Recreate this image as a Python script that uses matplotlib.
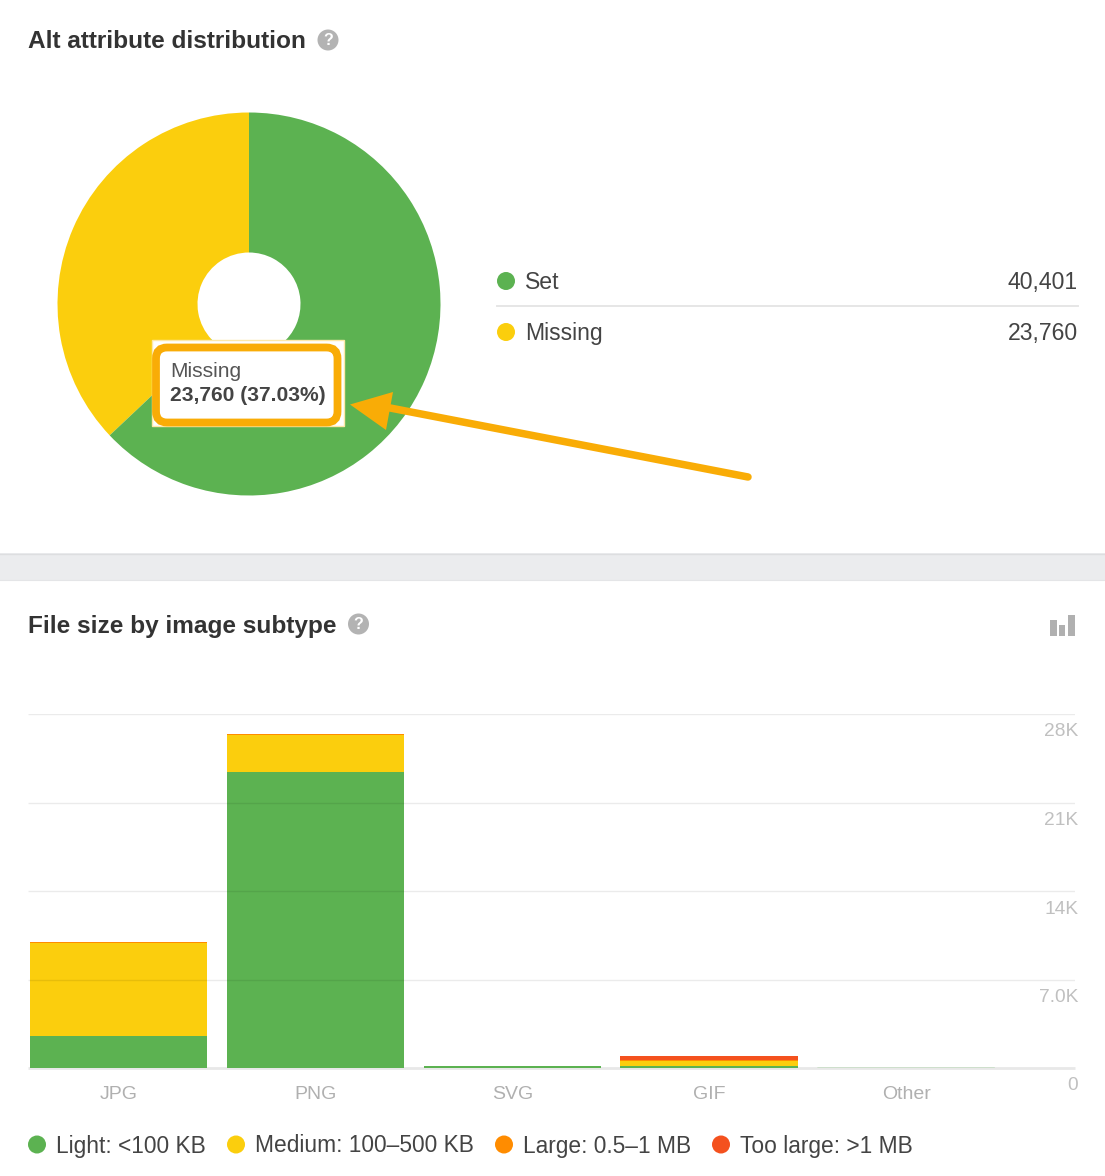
import matplotlib
matplotlib.use("Agg")
import matplotlib.pyplot as plt
from matplotlib.patches import Circle, FancyBboxPatch, Polygon, Rectangle
import numpy as np

# ---- data ----
pie_labels = ["Set", "Missing"]
pie_values = [40401, 23760]
tooltip_pct = "37.03%"
categories = ["JPG", "PNG", "SVG", "GIF", "Other"]
light = [2510, 23430, 150, 130, 30]
medium = [7380, 2920, 0, 400, 0]
large = [70, 60, 0, 130, 0]
too_large = [30, 30, 0, 290, 0]
y_ticks = [0, 7000, 14000, 21000, 28000]
y_tick_labels = ["0", "7.0K", "14K", "21K", "28K"]
legend_labels = ["Light: <100 KB", "Medium: 100–500 KB", "Large: 0.5–1 MB", "Too large: >1 MB"]
title_a = "Alt attribute distribution"
title_b = "File size by image subtype"

GREEN, YELLOW, ORANGE, RED = "#5cb251", "#fbce0d", "#ff8c00", "#f4511e"
ACCENT = "#f9ac06"
W, H = 1105, 1176
plt.rcParams["font.family"] = ["Liberation Sans", "DejaVu Sans"]
fig = plt.figure(figsize=(W / 100, H / 100), dpi=100, facecolor="white")

def px_axes(l, t, r, b, **kw):
    return fig.add_axes([l / W, 1 - b / H, (r - l) / W, (b - t) / H], **kw)

# background layer in pixel coords
bg = px_axes(0, 0, W, H, zorder=0)
bg.set_xlim(0, W); bg.set_ylim(H, 0); bg.axis("off")
bg.add_patch(Rectangle((0, 553), W, 27, fc="#ebecee", ec="none"))
bg.plot([0, W], [553.5, 553.5], color="#dddee0", lw=1)
bg.plot([0, W], [580, 580], color="#e4e5e7", lw=0.8)

def help_icon(cx, cy):
    bg.add_patch(Circle((cx, cy), 10.5, fc="#b3b3b3", ec="none"))
    bg.text(cx, cy + 0.5, "?", color="white", fontsize=11.5, fontweight="bold", ha="center", va="center")

bg.text(28, 42, title_a, fontsize=17.6, fontweight="bold", color="#333333", va="center")
help_icon(328, 40)
bg.text(28.5, 626, title_b, fontsize=17.6, fontweight="bold", color="#333333", va="center")
help_icon(358.5, 624)
for x0, x1, top in [(1050, 1056.7, 620), (1059, 1065.3, 625), (1067.7, 1074.7, 614.7)]:
    bg.add_patch(Rectangle((x0, top), x1 - x0, 635.7 - top, fc="#b0b0b0", ec="none"))

# pie legend table
for (label, val, y, col) in zip(pie_labels, pie_values, [281, 332], [GREEN, YELLOW]):
    bg.add_patch(Circle((506, y), 9, fc=col, ec="none"))
    bg.text(525, y + 1.5, label, fontsize=16.6, color="#444444", va="center")
    bg.text(1078, y + 1.5, f"{val:,}", fontsize=16.6, color="#444444", va="center", ha="right")
bg.plot([497, 1078], [306, 306], color="#e6e6e6", lw=1.4)

# donut
pie_ax = px_axes(57.5, 112.5, 440.5, 495.5, zorder=1)
pie_ax.pie([pie_values[1], pie_values[0]], colors=[YELLOW, GREEN], startangle=90,
           radius=1, wedgeprops=dict(width=1 - 51.5 / 191.5, linewidth=0))
pie_ax.set_xlim(-1, 1); pie_ax.set_ylim(-1, 1); pie_ax.set_aspect("auto")

# stacked bars
bar_ax = px_axes(28, 714, 1075, 1068, zorder=1)
x = np.arange(len(categories))
bar_ax.set_xlim((28 - 118.5) / 196.9, (1075 - 118.5) / 196.9)
bar_ax.set_ylim(0, 28000)
bar_ax.patch.set_alpha(0)
bottom = np.zeros(len(categories))
for vals, col in zip([light, medium, large, too_large], [GREEN, YELLOW, ORANGE, RED]):
    bars = bar_ax.bar(x, vals, bottom=bottom, width=177.5 / 196.9, color=col, linewidth=0, zorder=2)
    bars[-1].set_snap(False)
    bars[-1].set_alpha(0.5)
    bottom += np.array(vals)
for s in bar_ax.spines.values():
    s.set_visible(False)
for t in y_ticks[1:]:
    bar_ax.plot([0, 1], [t, t], transform=bar_ax.get_yaxis_transform(), color="#000000",
                alpha=0.08, lw=1.0, zorder=3, solid_capstyle="butt")
bar_ax.plot([0, 1], [0, 0], transform=bar_ax.get_yaxis_transform(), color="#e8e8e8", lw=2,
            zorder=1.5, clip_on=False, solid_capstyle="butt")
bar_ax.set_xticks(x, categories, fontsize=14, color="#b0b0b0")
bar_ax.set_yticks([])
bar_ax.tick_params(axis="x", length=0, pad=13)
bar_ax.yaxis.set_visible(False)
for t, lab in zip(y_ticks, y_tick_labels):
    bar_ax.annotate(lab, xy=(1, t), xycoords=("axes fraction", "data"),
                    xytext=(3 * 0.72, -18 * 0.72), textcoords="offset points",
                    fontsize=13.8, color="#c0c0c0", ha="right", va="center", annotation_clip=False)

# bottom legend
for label, col, dx, tx in zip(legend_labels, [GREEN, YELLOW, ORANGE, RED],
                              [37, 236, 504, 721], [56, 255, 523, 740]):
    bg.add_patch(Circle((dx, 1144.5), 9, fc=col, ec="none"))
    bg.text(tx, 1146, label, fontsize=16.35, color="#444444", va="center")

# overlay: tooltip + arrow
ov = px_axes(0, 0, W, H, zorder=5)
ov.set_xlim(0, W); ov.set_ylim(H, 0); ov.axis("off")
ov.add_patch(Rectangle((152, 340), 192, 86, fc="white", ec="#fde8a8", lw=1))
ov.add_patch(FancyBboxPatch((156, 347.5), 181.5, 75, boxstyle="round,pad=0,rounding_size=11",
                            fc="white", ec=ACCENT, lw=5.6))
ov.text(170, 371.5, pie_labels[1], fontsize=15.1, color="#555555", va="center")
ov.text(170, 395.5, f"{pie_values[1]:,} ({tooltip_pct})", fontsize=15.1, fontweight="bold",
        color="#444444", va="center")
ov.plot([748, 385], [477, 407], color=ACCENT, lw=5.4, solid_capstyle="round")
ov.add_patch(Polygon([(350, 404.5), (393, 392), (386, 430)], closed=True, fc=ACCENT, ec="none"))

fig.savefig("out.png", dpi=100, facecolor="white")
